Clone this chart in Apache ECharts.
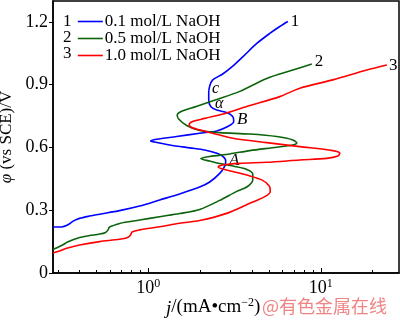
<!DOCTYPE html>
<html>
<head>
<meta charset="utf-8">
<script src="https://cdn.jsdelivr.net/npm/echarts@6/dist/echarts.min.js"></script>
<style>
html,body{margin:0;padding:0;background:#fff;}
#chart{width:400px;height:322px;}
</style>
</head>
<body>
<div id="chart"></div>
<script>
// ---- data (j in mA/cm2, phi in V vs SCE) ----
const seriesNames = ['0.1 mol/L NaOH', '0.5 mol/L NaOH', '1.0 mol/L NaOH'];
const curveLabels = ['1', '2', '3'];
const colors = ['#0000ff', '#0b640b', '#ff0000'];

const j1 = [0.28,0.314,0.340,0.3685,0.399,0.456,0.522,0.681,0.890,1.163,1.519,1.985,2.269,2.593,2.773,2.810,2.735,2.525,2.122,1.737,1.329,1.088,1.031,1.117,1.459,1.985,2.491,2.885,3.127,3.086,2.847,2.491,2.299,2.239,2.239,2.269,2.362,2.699,3.086,3.526,4.252,5.058,5.781,6.434];
const phi1 = [0.220,0.220,0.229,0.249,0.261,0.272,0.281,0.298,0.320,0.349,0.378,0.411,0.435,0.476,0.511,0.535,0.554,0.571,0.588,0.598,0.612,0.626,0.631,0.639,0.652,0.668,0.679,0.700,0.724,0.748,0.767,0.779,0.796,0.827,0.860,0.894,0.923,0.951,0.989,1.033,1.097,1.145,1.178,1.202];

const j2 = [0.28,0.2975,0.318,0.340,0.3685,0.399,0.456,0.522,0.565,0.584,0.592,0.604,0.681,0.890,1.163,1.519,1.985,2.593,3.254,3.720,4.030,4.030,3.720,3.169,2.593,2.269,2.012,2.269,2.964,3.872,5.555,6.879,7.256,6.879,5.555,3.872,2.593,1.985,1.668,1.499,1.470,1.550,1.894,2.491,3.388,4.860,6.879,8.867];
const phi2 = [0.112,0.122,0.134,0.148,0.160,0.170,0.179,0.186,0.194,0.206,0.217,0.222,0.237,0.253,0.269,0.284,0.304,0.347,0.390,0.411,0.445,0.473,0.495,0.509,0.523,0.535,0.547,0.557,0.569,0.585,0.601,0.612,0.621,0.636,0.652,0.664,0.671,0.681,0.705,0.736,0.755,0.772,0.796,0.829,0.868,0.930,0.970,0.999];

const j3 = [0.28,0.3057,0.3357,0.399,0.522,0.681,0.758,0.789,0.805,0.890,1.163,1.519,1.985,2.847,3.872,4.732,5.092,5.024,4.546,3.720,3.086,2.699,2.542,2.699,3.388,4.860,7.553,10.83,12.55,12.89,11.74,7.553,4.860,3.086,2.362,1.985,1.760,1.725,1.807,2.122,2.847,3.720,5.781,7.553,11.74,18.49,24.16];
const phi3 = [0.096,0.105,0.118,0.134,0.150,0.161,0.170,0.182,0.196,0.206,0.221,0.238,0.251,0.285,0.333,0.365,0.390,0.416,0.445,0.468,0.485,0.497,0.507,0.516,0.524,0.529,0.540,0.548,0.559,0.572,0.585,0.604,0.623,0.644,0.668,0.684,0.698,0.710,0.724,0.739,0.765,0.796,0.843,0.883,0.923,0.970,0.994];

const yTicks = [0, 0.3, 0.6, 0.9, 1.2];
const xMajorTicks = [1, 10];
const xMinorTicks = [0.3,0.4,0.5,0.6,0.7,0.8,0.9,2,3,4,5,6,7,8,9,20];
const xRange = [0.28, 28.4];
const yRange = [0, 1.3];

// ---- chart ----
const serif = '"Liberation Serif","Times New Roman",serif';
const chart = echarts.init(document.getElementById('chart'), null, {renderer: 'canvas'});
const zip = (a, b) => a.map((v, i) => [v, b[i]]);
const allJ = [j1, j2, j3], allPhi = [phi1, phi2, phi3];
const endOffsets = [[0, 0], [0, -2], [-1, 1]];

const series = seriesNames.map((name, k) => ({
  name: name,
  type: 'line',
  xAxisIndex: 0,
  data: zip(allJ[k], allPhi[k]),
  symbol: 'none',
  smooth: 0.3,
  lineStyle: {color: colors[k], width: 1.6},
  itemStyle: {color: colors[k]},
  endLabel: {
    show: true, formatter: curveLabels[k], fontFamily: serif, fontSize: 17,
    color: '#000', distance: 3, offset: endOffsets[k]
  },
  animation: false
}));

const option = {
  animation: false,
  grid: {left: 53, top: 1, width: 346, height: 272, show: true, borderColor: '#000', borderWidth: 1.5,
         containLabel: false, outerBoundsMode: 'none'},
  legend: {
    orient: 'vertical', left: 77, top: 13, padding: 0, itemGap: 0,
    itemWidth: 25, itemHeight: 10,
    itemStyle: {opacity: 0},
    lineStyle: {width: 1.6},
    textStyle: {fontFamily: serif, fontSize: 17, color: '#000', lineHeight: 16, height: 16, padding: [0, 0, 0, -3]},
    data: seriesNames
  },
  xAxis: [{
    type: 'log', logBase: 10, min: xRange[0], max: xRange[1], position: 'bottom',
    axisLine: {lineStyle: {color: '#000', width: 1.5}},
    axisTick: {inside: true, length: 5, customValues: xMajorTicks, lineStyle: {color: '#000', width: 1}},
    splitLine: {show: false},
    axisLabel: {
      customValues: xMajorTicks, margin: 5, color: '#000',
      formatter: v => '{b|10}{s|' + Math.round(Math.log10(v)) + '}',
      rich: {
        b: {fontFamily: serif, fontSize: 18, lineHeight: 20, color: '#000'},
        s: {fontFamily: serif, fontSize: 12, lineHeight: 20, verticalAlign: 'top', color: '#000'}
      }
    }
  }, {
    type: 'log', logBase: 10, min: xRange[0], max: xRange[1], position: 'bottom',
    axisLine: {show: false},
    axisTick: {inside: true, length: 3, customValues: xMinorTicks, lineStyle: {color: '#000', width: 1}},
    axisLabel: {show: false},
    splitLine: {show: false}
  }],
  yAxis: {
    type: 'value', min: yRange[0], max: yRange[1],
    axisLine: {show: true, lineStyle: {color: '#000', width: 1.5}},
    axisTick: {show: true, inside: false, length: 4, customValues: yTicks, lineStyle: {color: '#000', width: 1}},
    splitLine: {show: false},
    axisLabel: {
      customValues: yTicks, margin: 5, fontFamily: serif, fontSize: 18, color: '#000',
      formatter: v => (v === 0 ? '0' : v.toFixed(1))
    },
    name: '{i|φ} (vs SCE)/V',
    nameLocation: 'middle', nameGap: 35, nameRotate: 90,
    nameTextStyle: {
      fontFamily: serif, fontSize: 17, color: '#000',
      rich: {i: {fontFamily: serif, fontSize: 17, fontStyle: 'italic', color: '#000'}}
    }
  },
  graphic: [
    {type: 'text', left: 63, top: 13, style: {text: '1', font: '17px ' + serif, fill: '#000'}},
    {type: 'text', left: 63, top: 29, style: {text: '2', font: '17px ' + serif, fill: '#000'}},
    {type: 'text', left: 63, top: 45, style: {text: '3', font: '17px ' + serif, fill: '#000'}},
    {type: 'text', left: 212, top: 81, style: {text: 'c', font: 'italic 16px ' + serif, fill: '#000'}},
    {type: 'text', left: 215, top: 96, style: {text: 'α', font: 'italic 16px ' + serif, fill: '#000'}},
    {type: 'text', left: 237, top: 111, style: {text: 'B', font: 'italic 17px ' + serif, fill: '#000'}},
    {type: 'text', left: 229, top: 152, style: {text: 'A', font: 'italic 17px ' + serif, fill: '#000'}},
    {type: 'text', left: 166, top: 297, style: {
      text: '{i|j}/(mA•cm{s|−2})', font: '19px ' + serif, fill: '#000',
      rich: {
        i: {fontFamily: serif, fontSize: 19, fontStyle: 'italic', lineHeight: 21, verticalAlign: 'bottom'},
        s: {fontFamily: serif, fontSize: 12, lineHeight: 21, verticalAlign: 'top'}
      }
    }},
    {type: 'text', left: 262, top: 297, style: {text: '@有色金属在线', font: '18px "Noto Sans CJK SC", sans-serif', fill: '#f08484'}}
  ],
  series: series
};
chart.setOption(option);
</script>
</body>
</html>
